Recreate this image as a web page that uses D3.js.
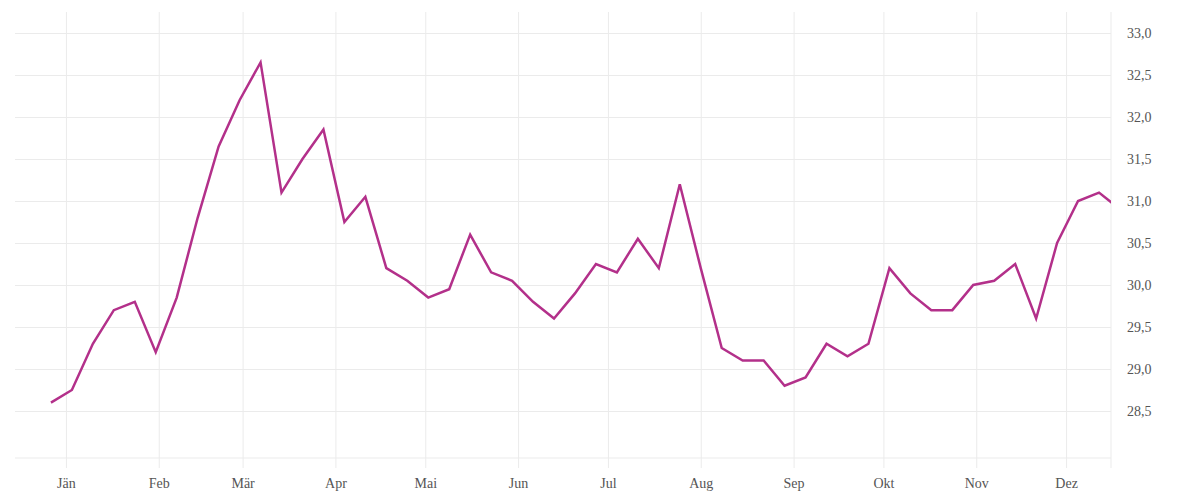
<!DOCTYPE html>
<html lang="de">
<head>
  <meta charset="UTF-8">
  <title>Wochenwerte</title>
  <style>
    body { margin: 0; background: #fff; }
    .axis text { font-family: "Liberation Serif", "DejaVu Serif", serif; font-size: 14px; fill: #555; }
    .axis line { stroke: #ebebeb; }
    .axis .domain { display: none; }
  </style>
  <script src="https://cdn.jsdelivr.net/npm/d3@7"></script>
</head>
<body>
  <svg width="1200" height="500"></svg>
  <script>
    // weekly values, first week starts 27.12.2022
    var startDate = new Date(Date.UTC(2022, 11, 27));
    var values = [
      28.6, 28.75, 29.3, 29.7, 29.8, 29.2, 29.85, 30.8, 31.65, 32.2,
      32.65, 31.1, 31.5, 31.85, 30.75, 31.05, 30.2, 30.05, 29.85, 29.95,
      30.6, 30.15, 30.05, 29.8, 29.6, 29.9, 30.25, 30.15, 30.55, 30.2,
      31.2, 30.2, 29.25, 29.1, 29.1, 28.8, 28.9, 29.3, 29.15, 29.3,
      30.2, 29.9, 29.7, 29.7, 30.0, 30.05, 30.25, 29.6, 30.5, 31.0,
      31.1, 30.9
    ];
    var monthLabels = ["Jän", "Feb", "Mär", "Apr", "Mai", "Jun", "Jul", "Aug", "Sep", "Okt", "Nov", "Dez"];
    var yTicks = [28.5, 29, 29.5, 30, 30.5, 31, 31.5, 32, 32.5, 33];

    var data = values.map(function(v, i) {
      return { date: d3.utcDay.offset(startDate, 7 * i), value: v };
    });
    var monthDates = monthLabels.map(function(m, i) { return new Date(Date.UTC(2023, i, 1)); });

    var plotLeft = 15, plotRight = 1111, plotTop = 12, plotBottom = 458;

    var x = d3.scaleUtc()
        .domain([new Date(Date.UTC(2022, 11, 15)), new Date(Date.UTC(2023, 11, 16))])
        .range([plotLeft, plotRight]);
    var y = d3.scaleLinear()
        .domain([27.94, 33.25])
        .range([plotBottom, plotTop]);

    var fmt = d3.formatLocale({ decimal: ",", thousands: ".", grouping: [3], currency: ["", " €"] }).format(".1f");

    var svg = d3.select("svg");

    // vertical grid + month labels
    svg.append("g")
        .attr("class", "axis")
        .attr("transform", "translate(0," + (plotBottom + 10) + ")")
        .call(d3.axisBottom(x)
            .tickValues(monthDates)
            .tickFormat(function(d, i) { return monthLabels[i]; })
            .tickSize(-(plotBottom + 10 - plotTop))
            .tickPadding(10));

    // horizontal grid + value labels
    svg.append("g")
        .attr("class", "axis")
        .attr("transform", "translate(" + plotRight + ",0)")
        .call(d3.axisRight(y)
            .tickValues(yTicks)
            .tickFormat(fmt)
            .tickSize(-(plotRight - plotLeft))
            .tickPadding(16));

    svg.append("line")
        .attr("x1", plotLeft).attr("x2", plotRight)
        .attr("y1", plotBottom).attr("y2", plotBottom)
        .attr("stroke", "#ebebeb");
    svg.append("line")
        .attr("x1", plotRight).attr("x2", plotRight)
        .attr("y1", plotTop).attr("y2", plotBottom + 10)
        .attr("stroke", "#ebebeb");

    svg.append("clipPath").attr("id", "plot")
      .append("rect")
        .attr("x", plotLeft).attr("y", 0)
        .attr("width", plotRight - plotLeft).attr("height", 500);

    var line = d3.line()
        .x(function(d) { return x(d.date); })
        .y(function(d) { return y(d.value); });

    svg.append("path")
        .datum(data)
        .attr("clip-path", "url(#plot)")
        .attr("fill", "none")
        .attr("stroke", "#b3308a")
        .attr("stroke-width", 2.5)
        .attr("stroke-linejoin", "miter")
        .attr("d", line);
  </script>
</body>
</html>
